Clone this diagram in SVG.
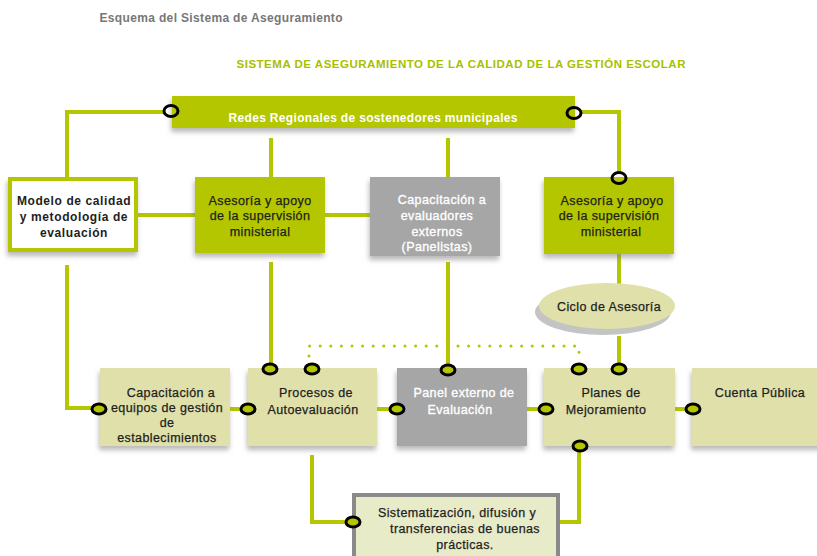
<svg xmlns="http://www.w3.org/2000/svg" width="817" height="556" viewBox="0 0 817 556">
  <style>
    .t { font-family: "Liberation Sans", Arial, sans-serif; font-size: 12.5px; text-anchor: middle; letter-spacing: 0.4px; }
    .dark { fill: #1e1e1e; stroke: #1e1e1e; stroke-width: 0.25; }
    .white { fill: #ffffff; stroke: #ffffff; stroke-width: 0.35; }
    .b { font-weight: bold; stroke: none; }
    .green { fill: #b3c600; }
    .pale { fill: #dfe0aa; }
    .grey { fill: #a6a6a6; }
    .wire { stroke: #b3c600; stroke-width: 4; fill: none; }
    .dots { stroke: #b3c600; stroke-width: 3; stroke-linecap: round; stroke-dasharray: 0 10.6; fill: none; }
    .ring { stroke: #000; stroke-width: 3; fill: none; }
    .knob { stroke: #000; stroke-width: 3; fill: #b3c600; }
  </style>
  <defs>
    <filter id="shadow" x="-10%" y="-10%" width="120%" height="140%">
      <feDropShadow dx="-1" dy="4" stdDeviation="2.5" flood-color="#808080" flood-opacity="0.55"/>
    </filter>
  </defs>

  <rect width="817" height="556" fill="#ffffff"/>

  <!-- headings -->
  <text x="221" y="22" class="t b" fill="#777777" style="font-size:12px;letter-spacing:0" textLength="243">Esquema del Sistema de Aseguramiento</text>
  <text x="461" y="68" class="t b" fill="#a8c000" style="font-size:11.5px;letter-spacing:0" textLength="449">SISTEMA DE ASEGURAMIENTO DE LA CALIDAD DE LA GESTIÓN ESCOLAR</text>

  <!-- connectors -->
  <g id="connectors">
    <polyline class="wire" points="165,112 67,112 67,177"/>
    <polyline class="wire" points="580,112 619,112 619,174"/>
    <line class="wire" x1="271" y1="138" x2="271" y2="177"/>
    <line class="wire" x1="448" y1="138" x2="448" y2="177"/>
    <line class="wire" x1="138" y1="215" x2="195" y2="215"/>
    <line class="wire" x1="325" y1="215" x2="370" y2="215"/>
    <polyline class="wire" points="67,265 67,408 92,408"/>
    <line class="wire" x1="271" y1="262" x2="271" y2="363"/>
    <line class="wire" x1="448" y1="262" x2="448" y2="364"/>
    <line class="wire" x1="619" y1="254" x2="619" y2="284"/>
    <line class="wire" x1="619" y1="336" x2="619" y2="363"/>
    <line class="wire" x1="230" y1="409" x2="241" y2="409"/>
    <line class="wire" x1="377" y1="409" x2="390" y2="409"/>
    <line class="wire" x1="527" y1="409" x2="539" y2="409"/>
    <line class="wire" x1="675" y1="409" x2="686" y2="409"/>
    <polyline class="wire" points="312,455 312,522 346,522"/>
    <polyline class="wire" points="579,452 579,522 560,522"/>
    <polyline class="dots" points="309,356 309,346 579,346 579,356"/>
  </g>

  <!-- top network bar -->
  <g id="redes">
    <rect x="172" y="96" width="403" height="32" class="green" filter="url(#shadow)"/>
    <text x="373" y="122" class="t b white" style="font-size:12px;letter-spacing:0" textLength="289">Redes Regionales de sostenedores municipales</text>
    <ellipse cx="171" cy="111" rx="7" ry="5.5" class="ring"/>
    <ellipse cx="574" cy="113" rx="7" ry="5.5" class="ring"/>
  </g>

  <g id="modelo">
    <rect x="10" y="179" width="126" height="71" fill="#ffffff" stroke="#b3c600" stroke-width="4" filter="url(#shadow)"/>
    <text class="t b dark" x="74" y="205" style="font-size:12px;letter-spacing:0.6px">Modelo de calidad</text>
    <text class="t b dark" x="74" y="221" style="font-size:12px;letter-spacing:0.6px">y metodología de</text>
    <text class="t b dark" x="74" y="237" style="font-size:12px;letter-spacing:0.6px">evaluación</text>
  </g>

  <g id="asesoria-1">
    <rect x="195" y="177" width="130" height="76" class="green" filter="url(#shadow)"/>
    <text class="t dark" x="260" y="205">Asesoría y apoyo</text>
    <text class="t dark" x="260" y="220">de la supervisión</text>
    <text class="t dark" x="260" y="236">ministerial</text>
  </g>

  <g id="capacitacion-evaluadores">
    <rect x="370" y="177" width="130" height="79" class="grey" filter="url(#shadow)"/>
    <text class="t white" x="442" y="204">Capacitación a</text>
    <text class="t white" x="437" y="220">evaluadores</text>
    <text class="t white" x="437" y="236">externos</text>
    <text class="t white" x="437" y="251">(Panelistas)</text>
  </g>

  <g id="asesoria-2">
    <rect x="544" y="177" width="130" height="77" class="green" filter="url(#shadow)"/>
    <text class="t dark" x="612" y="205">Asesoría y apoyo</text>
    <text class="t dark" x="609" y="220">de la supervisión</text>
    <text class="t dark" x="611" y="236">ministerial</text>
    <ellipse cx="619" cy="178" rx="7" ry="5.5" class="ring"/>
  </g>

  <g id="ciclo">
    <ellipse cx="603" cy="312" rx="68" ry="23" fill="#b5b5b5" opacity="0.8"/>
    <ellipse cx="607" cy="306" rx="68" ry="23" fill="#dfe0aa"/>
    <text class="t dark" x="609" y="311">Ciclo de Asesoría</text>
  </g>

  <g id="capacitacion-equipos">
    <rect x="100" y="368" width="130" height="78" class="pale" filter="url(#shadow)"/>
    <text class="t dark" x="171" y="397">Capacitación a</text>
    <text class="t dark" x="167" y="412">equipos de gestión</text>
    <text class="t dark" x="167" y="427">de</text>
    <text class="t dark" x="167" y="442">establecimientos</text>
    <ellipse cx="99" cy="409" rx="7" ry="5" class="knob"/>
  </g>

  <g id="procesos">
    <rect x="248" y="368" width="129" height="78" class="pale" filter="url(#shadow)"/>
    <text class="t dark" x="316" y="397">Procesos de</text>
    <text class="t dark" x="313" y="414">Autoevaluación</text>
    <ellipse cx="248" cy="409" rx="7" ry="5" class="knob"/>
    <ellipse cx="270" cy="369" rx="7" ry="5" class="knob"/>
    <ellipse cx="312" cy="369" rx="7" ry="5" class="knob"/>
  </g>

  <g id="panel">
    <rect x="397" y="368" width="130" height="78" class="grey" filter="url(#shadow)"/>
    <text class="t white" x="464" y="397">Panel externo de</text>
    <text class="t white" x="460" y="414">Evaluación</text>
    <ellipse cx="397" cy="409" rx="7" ry="5" class="knob"/>
    <ellipse cx="448" cy="370" rx="7" ry="5" class="knob"/>
  </g>

  <g id="planes">
    <rect x="544" y="368" width="131" height="78" class="pale" filter="url(#shadow)"/>
    <text class="t dark" x="611" y="397">Planes de</text>
    <text class="t dark" x="606" y="414">Mejoramiento</text>
    <ellipse cx="546" cy="409" rx="7" ry="5" class="knob"/>
    <ellipse cx="579" cy="369" rx="7" ry="5" class="knob"/>
    <ellipse cx="619" cy="369" rx="7" ry="5" class="knob"/>
    <ellipse cx="580" cy="446" rx="7" ry="5" class="knob"/>
  </g>

  <g id="cuenta">
    <rect x="692" y="368" width="135" height="78" class="pale" filter="url(#shadow)"/>
    <text class="t dark" x="760" y="397">Cuenta Pública</text>
    <ellipse cx="693" cy="409" rx="7" ry="5" class="knob"/>
  </g>

  <g id="sistematizacion">
    <rect x="354" y="495" width="204" height="70" fill="#e8ebc8" stroke="#8a8a8a" stroke-width="4"/>
    <text class="t dark" x="457" y="517">Sistematización, difusión y</text>
    <text class="t dark" x="465" y="533">transferencias de buenas</text>
    <text class="t dark" x="465" y="549">prácticas.</text>
    <ellipse cx="353" cy="522" rx="7" ry="5" class="knob"/>
  </g>
</svg>
